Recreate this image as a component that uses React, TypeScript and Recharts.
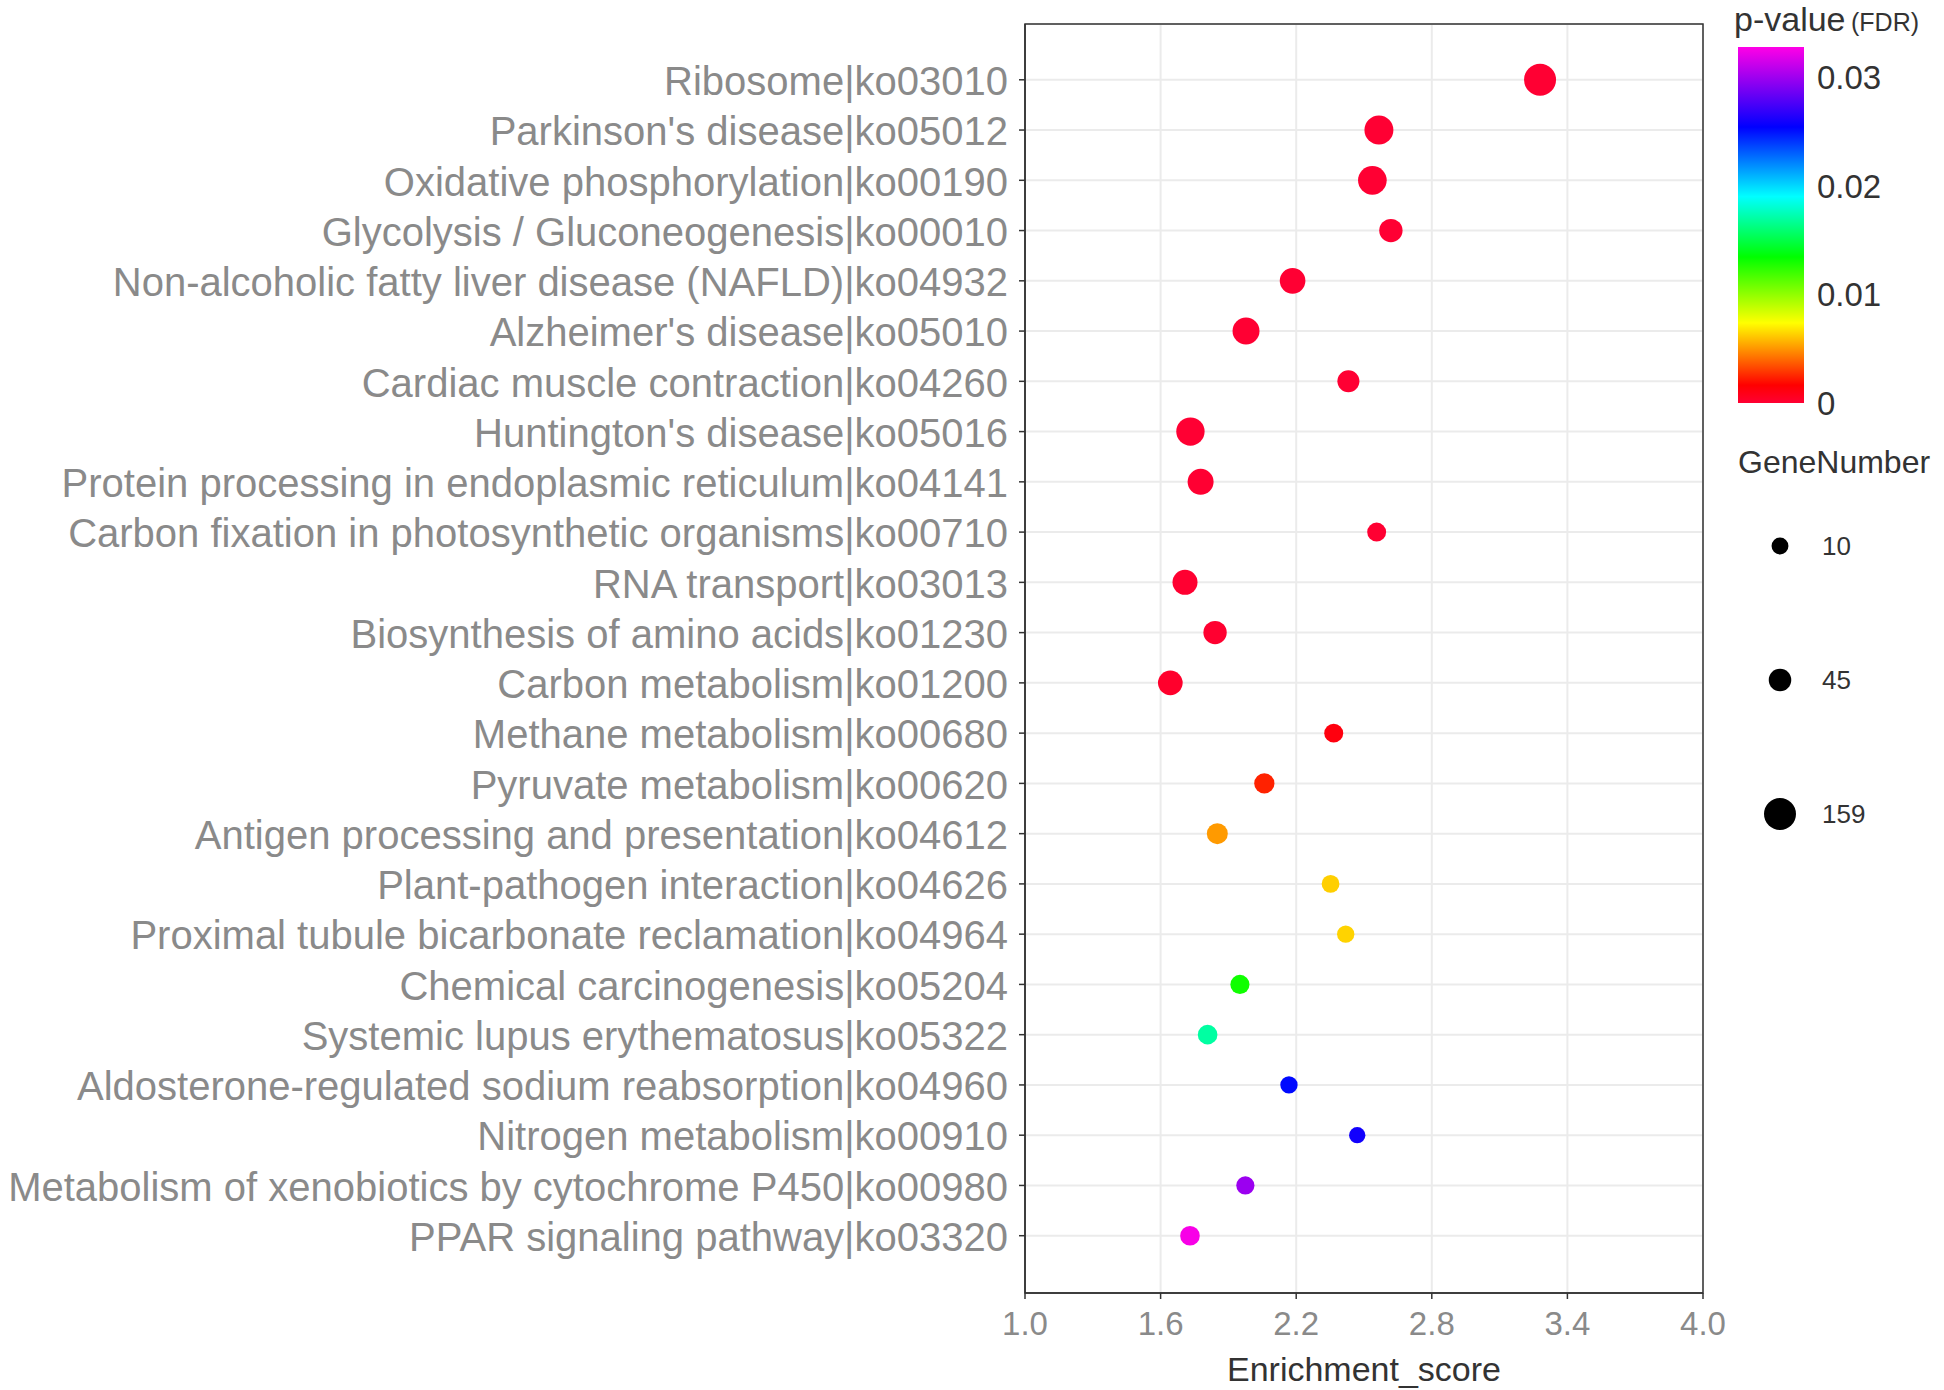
import { CartesianGrid, ReferenceArea, Scatter, ScatterChart, XAxis, YAxis } from "recharts";

const pathways = [
  "Ribosome|ko03010",
  "Parkinson's disease|ko05012",
  "Oxidative phosphorylation|ko00190",
  "Glycolysis / Gluconeogenesis|ko00010",
  "Non-alcoholic fatty liver disease (NAFLD)|ko04932",
  "Alzheimer's disease|ko05010",
  "Cardiac muscle contraction|ko04260",
  "Huntington's disease|ko05016",
  "Protein processing in endoplasmic reticulum|ko04141",
  "Carbon fixation in photosynthetic organisms|ko00710",
  "RNA transport|ko03013",
  "Biosynthesis of amino acids|ko01230",
  "Carbon metabolism|ko01200",
  "Methane metabolism|ko00680",
  "Pyruvate metabolism|ko00620",
  "Antigen processing and presentation|ko04612",
  "Plant-pathogen interaction|ko04626",
  "Proximal tubule bicarbonate reclamation|ko04964",
  "Chemical carcinogenesis|ko05204",
  "Systemic lupus erythematosus|ko05322",
  "Aldosterone-regulated sodium reabsorption|ko04960",
  "Nitrogen metabolism|ko00910",
  "Metabolism of xenobiotics by cytochrome P450|ko00980",
  "PPAR signaling pathway|ko03320",
];

const enrichmentScore = [
  3.279, 2.566, 2.537, 2.619, 2.184, 1.978, 2.431, 1.732, 1.777, 2.556, 1.708, 1.841,
  1.643, 2.366, 2.059, 1.851, 2.352, 2.419, 1.951, 1.808, 2.168, 2.47, 1.975, 1.73,
];

const pValue = [
  2.1e-12, 1.5e-9, 3.2e-8, 4.0e-7, 1.1e-6, 2.3e-6, 5.0e-6, 8.8e-6, 1.9e-5, 4.1e-5, 6.2e-5, 1.1e-4,
  2.4e-4, 0.0012, 0.0024, 0.0051, 0.0063, 0.0064, 0.0131, 0.017, 0.0252, 0.0259, 0.0299, 0.0326,
];

const geneNumber = [159, 115, 111, 52, 75, 90, 41, 107, 79, 20, 68, 52, 65, 20, 28, 33, 14, 12, 21, 24, 12, 8, 16, 24];

const xTicks = [1.0, 1.6, 2.2, 2.8, 3.4, 4.0];
const pTicks = [0, 0.01, 0.02, 0.03];
const sizeTicks = [10, 45, 159];

const FONT = "'Liberation Sans', Arial, Helvetica, sans-serif";
const P_MAX = 0.0328;
const colorStops: [number, string][] = [
  [0, "#ff0033"],
  [0.05, "#ff0000"],
  [0.225, "#ffff00"],
  [0.41, "#00ff00"],
  [0.58, "#00ffff"],
  [0.775, "#0000ff"],
  [1, "#ff00e6"],
];

function hexToRgb(h: string) {
  return [1, 3, 5].map((i) => parseInt(h.slice(i, i + 2), 16));
}

function colorFor(p: number) {
  const t = Math.max(0, Math.min(1, p / P_MAX));
  for (let i = 1; i < colorStops.length; i++) {
    const [t1, c1] = colorStops[i];
    const [t0, c0] = colorStops[i - 1];
    if (t <= t1) {
      const f = (t - t0) / (t1 - t0);
      const a = hexToRgb(c0);
      const b = hexToRgb(c1);
      const rgb = a.map((v, k) => Math.round(v + (b[k] - v) * f));
      return `rgb(${rgb.join(",")})`;
    }
  }
  return colorStops[colorStops.length - 1][1];
}

// diameter grows with sqrt of gene count, like ggplot's size scale
function radiusFor(n: number) {
  return (11.8 + 1.6 * Math.sqrt(n)) / 2;
}

const rows = pathways.map((_, i) => i + 1);
const data = pathways.map((name, i) => ({
  name,
  row: i + 1,
  score: enrichmentScore[i],
  p: pValue[i],
  genes: geneNumber[i],
}));

function PathwayTick(props: any) {
  const { x, y, payload } = props;
  return (
    <text x={x} y={y} dy="0.38em" textAnchor="end" fill="#8a8a8a" fontSize={40} fontFamily={FONT}>
      {pathways[payload.value - 1]}
    </text>
  );
}

function Dot(props: any) {
  const { cx, cy, payload } = props;
  return <circle cx={cx} cy={cy} r={radiusFor(payload.genes)} fill={colorFor(payload.p)} />;
}

const barX = 1738;
const barTop = 47;
const barH = 356;
const barY = (v: number) => barTop + barH - (v / P_MAX) * barH;

export default function App() {
  return (
    <div style={{ position: "absolute", left: 0, top: 0, width: 1944, height: 1390, background: "#fff", fontFamily: FONT }}>
      <ScatterChart width={1944} height={1390} margin={{ top: 24, right: 241, bottom: 0, left: 0 }}>
        <CartesianGrid stroke="#ebebeb" strokeWidth={2} />
        <XAxis
          type="number"
          dataKey="score"
          domain={[1, 4]}
          ticks={xTicks}
          allowDataOverflow
          interval={0}
          tickFormatter={(v) => Number(v).toFixed(1)}
          height={97}
          tickSize={6}
          tickMargin={13}
          tick={{ fill: "#8a8a8a", fontSize: 33 }}
          axisLine={{ stroke: "#333", strokeWidth: 1.5 }}
          tickLine={{ stroke: "#333", strokeWidth: 1.5 }}
          label={{ value: "Enrichment_score", position: "insideBottom", offset: 9, fill: "#333", fontSize: 34 }}
        />
        <YAxis
          type="number"
          dataKey="row"
          domain={[-0.11, 25.14]}
          reversed
          allowDataOverflow
          ticks={rows}
          interval={0}
          width={1025}
          tickSize={6}
          tickMargin={11}
          tick={(p: any) => <PathwayTick {...p} />}
          axisLine={{ stroke: "#333", strokeWidth: 1.5 }}
          tickLine={{ stroke: "#333", strokeWidth: 1.5 }}
        />
        <ReferenceArea x1={1} x2={4} y1={-0.11} y2={25.14} fill="none" stroke="#333" strokeWidth={1.5} />
        <Scatter data={data} isAnimationActive={false} shape={(p: any) => <Dot {...p} />} />
      </ScatterChart>

      <svg width={1944} height={1390} style={{ position: "absolute", left: 0, top: 0, pointerEvents: "none" }}>
        <defs>
          <linearGradient id="pgrad" x1="0" y1="1" x2="0" y2="0">
            {colorStops.map(([t, c]) => (
              <stop key={t} offset={t} stopColor={c} />
            ))}
          </linearGradient>
        </defs>
        <text x={1734} y={31} fontSize={34} fill="#333" fontFamily={FONT}>
          p-value
        </text>
        <text x={1851} y={31} fontSize={25} fill="#333" fontFamily={FONT}>
          (FDR)
        </text>
        <rect x={barX} y={barTop} width={66} height={barH} fill="url(#pgrad)" />
        {pTicks.map((v) => (
          <text key={v} x={1817} y={barY(v) + 12} fontSize={33} fill="#333" fontFamily={FONT}>
            {v === 0 ? "0" : v.toFixed(2)}
          </text>
        ))}
        <text x={1738} y={473} fontSize={32} fill="#333" fontFamily={FONT}>
          GeneNumber
        </text>
        {sizeTicks.map((n, i) => {
          const cy = [546, 680, 814][i];
          return (
            <g key={n}>
              <circle cx={1780} cy={cy} r={radiusFor(n)} fill="#000" />
              <text x={1822} y={cy + 9} fontSize={26} fill="#333" fontFamily={FONT}>
                {n}
              </text>
            </g>
          );
        })}
      </svg>
    </div>
  );
}
